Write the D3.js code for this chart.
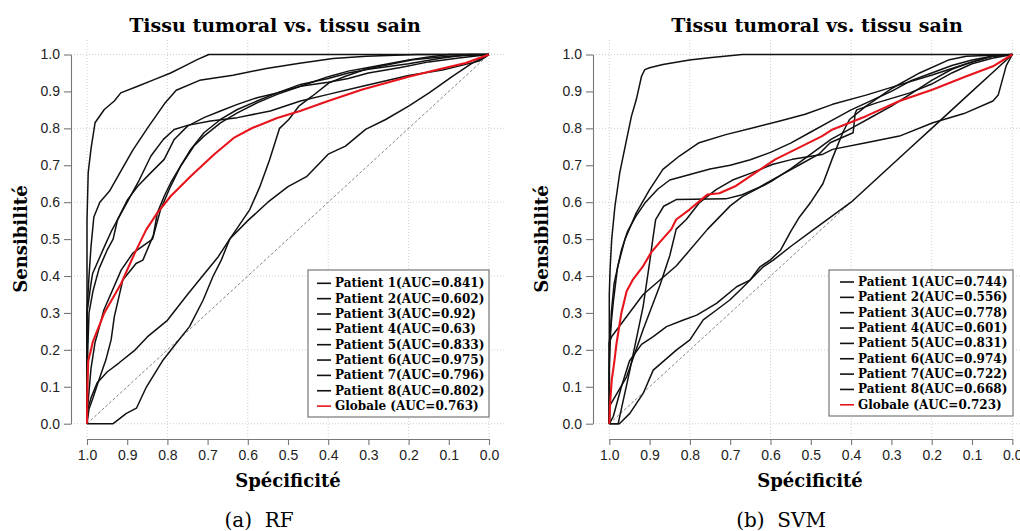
<!DOCTYPE html>
<html><head><meta charset="utf-8">
<script src="https://cdn.jsdelivr.net/npm/d3@7"></script>
<style>body{margin:0;background:#fff;overflow:hidden}</style>
</head><body><svg id="c" width="1020" height="531"></svg>
<script>
// ---------- tick labels ----------
const specTicks = [1.0,0.9,0.8,0.7,0.6,0.5,0.4,0.3,0.2,0.1,0.0];
const sensTicks = [0.0,0.1,0.2,0.3,0.4,0.5,0.6,0.7,0.8,0.9,1.0];
const gridValues = [0,0.2,0.4,0.6,0.8,1.0];
const titleText = "Tissu tumoral vs. tissu sain";
const xLabel = "Spécificité";
const yLabel = "Sensibilité";
const captions = ["(a)  RF", "(b)  SVM"];

// ---------- legend labels ----------
const rfLabels = ["Patient 1(AUC=0.841)","Patient 2(AUC=0.602)","Patient 3(AUC=0.92)","Patient 4(AUC=0.63)",
  "Patient 5(AUC=0.833)","Patient 6(AUC=0.975)","Patient 7(AUC=0.796)","Patient 8(AUC=0.802)","Globale (AUC=0.763)"];
const svmLabels = ["Patient 1(AUC=0.744)","Patient 2(AUC=0.556)","Patient 3(AUC=0.778)","Patient 4(AUC=0.601)",
  "Patient 5(AUC=0.831)","Patient 6(AUC=0.974)","Patient 7(AUC=0.722)","Patient 8(AUC=0.668)","Globale (AUC=0.723)"];

// ---------- RF curves [specificity, sensitivity] ----------
const rfP1 = [[1,0],[0.998,0.2],[0.995,0.3],[0.985,0.36],[0.97,0.42],[0.95,0.47],[0.935,0.5],[0.924,0.553],[0.899,0.607],[0.874,0.643],[0.841,0.68],[0.808,0.716],[0.783,0.77],[0.75,0.806],[0.709,0.829],[0.668,0.847],[0.626,0.865],[0.577,0.883],[0.527,0.896],[0.469,0.914],[0.44,0.925],[0.4,0.94],[0.35,0.955],[0.3,0.965],[0.25,0.975],[0.2,0.985],[0.15,0.993],[0.1,1],[0,1]];
const rfP2 = [[1,0],[0.998,0.04],[0.99,0.07],[0.975,0.11],[0.95,0.14],[0.92,0.165],[0.88,0.2],[0.85,0.235],[0.8,0.28],[0.75,0.35],[0.705,0.41],[0.675,0.45],[0.645,0.5],[0.6,0.55],[0.55,0.6],[0.5,0.642],[0.454,0.669],[0.4,0.73],[0.357,0.752],[0.307,0.797],[0.257,0.824],[0.2,0.86],[0.149,0.896],[0.091,0.941],[0.041,0.977],[0,1]];
const rfP3 = [[1,0],[1,0.3],[0.995,0.4],[0.99,0.48],[0.983,0.56],[0.968,0.6],[0.944,0.63],[0.919,0.678],[0.886,0.741],[0.85,0.8],[0.807,0.867],[0.778,0.903],[0.72,0.93],[0.637,0.944],[0.554,0.962],[0.471,0.976],[0.388,0.989],[0.305,0.995],[0.18,1],[0,1]];
const rfP4 = [[1,0],[0.935,0],[0.902,0.028],[0.877,0.042],[0.852,0.1],[0.811,0.172],[0.778,0.218],[0.745,0.263],[0.711,0.335],[0.687,0.398],[0.666,0.443],[0.645,0.5],[0.62,0.54],[0.595,0.58],[0.57,0.642],[0.546,0.714],[0.521,0.8],[0.498,0.824],[0.473,0.86],[0.44,0.887],[0.398,0.923],[0.357,0.941],[0.307,0.96],[0.19,0.986],[0.1,0.995],[0,1]];
const rfP5 = [[1,0],[1,0.3],[0.99,0.38],[0.986,0.407],[0.957,0.479],[0.94,0.52],[0.92,0.56],[0.9,0.6],[0.87,0.66],[0.841,0.725],[0.81,0.77],[0.783,0.797],[0.75,0.808],[0.693,0.82],[0.626,0.829],[0.544,0.847],[0.469,0.874],[0.4,0.892],[0.315,0.914],[0.2,0.943],[0.116,0.958],[0.025,0.982],[0,1]];
const rfP6 = [[1,0],[1,0.55],[0.997,0.68],[0.99,0.745],[0.98,0.815],[0.957,0.851],[0.932,0.874],[0.916,0.896],[0.874,0.914],[0.833,0.932],[0.792,0.95],[0.759,0.968],[0.726,0.986],[0.697,1],[0,1]];
const rfP7 = [[1,0],[0.998,0.05],[0.99,0.15],[0.98,0.22],[0.969,0.263],[0.958,0.308],[0.915,0.416],[0.886,0.462],[0.837,0.5],[0.817,0.58],[0.792,0.643],[0.767,0.698],[0.742,0.743],[0.709,0.788],[0.668,0.824],[0.626,0.851],[0.577,0.874],[0.527,0.896],[0.469,0.919],[0.4,0.935],[0.35,0.95],[0.3,0.96],[0.2,0.975],[0.12,0.99],[0.05,1],[0,1]];
const rfP8 = [[1,0],[0.995,0.04],[0.985,0.07],[0.97,0.12],[0.953,0.173],[0.94,0.227],[0.932,0.29],[0.911,0.389],[0.878,0.434],[0.861,0.443],[0.835,0.51],[0.825,0.571],[0.808,0.616],[0.792,0.652],[0.767,0.698],[0.734,0.752],[0.709,0.779],[0.668,0.815],[0.626,0.842],[0.577,0.869],[0.527,0.892],[0.469,0.914],[0.4,0.925],[0.35,0.935],[0.3,0.95],[0.22,0.965],[0.15,0.98],[0.08,0.99],[0,1]];
const rfGlobal = [[1,0],[0.999,0.1],[0.997,0.17],[0.99,0.2],[0.986,0.22],[0.957,0.3],[0.915,0.38],[0.882,0.46],[0.853,0.525],[0.825,0.571],[0.792,0.616],[0.742,0.67],[0.684,0.729],[0.635,0.774],[0.589,0.801],[0.527,0.828],[0.47,0.847],[0.4,0.874],[0.315,0.905],[0.2,0.94],[0.124,0.96],[0.058,0.977],[0,1]];

// ---------- SVM curves [specificity, sensitivity] ----------
const svmP1 = [[1,0],[0.978,0],[0.949,0.145],[0.916,0.318],[0.9,0.436],[0.892,0.5],[0.885,0.553],[0.865,0.589],[0.834,0.607],[0.711,0.609],[0.67,0.62],[0.629,0.64],[0.58,0.67],[0.53,0.7],[0.48,0.73],[0.452,0.761],[0.395,0.788],[0.39,0.84],[0.386,0.85],[0.337,0.869],[0.254,0.896],[0.2,0.92],[0.15,0.95],[0.1,0.975],[0.05,0.99],[0,1]];
const svmP2 = [[1,0],[0.975,0],[0.949,0.028],[0.916,0.082],[0.891,0.145],[0.833,0.2],[0.8,0.227],[0.767,0.281],[0.734,0.308],[0.701,0.335],[0.667,0.371],[0.618,0.425],[0.593,0.443],[0.55,0.48],[0.5,0.52],[0.45,0.56],[0.4,0.6],[0.35,0.65],[0.3,0.7],[0.25,0.75],[0.2,0.8],[0.15,0.85],[0.1,0.9],[0.05,0.95],[0,1]];
const svmP3 = [[1,0],[1,0.22],[0.99,0.33],[0.98,0.42],[0.97,0.47],[0.955,0.52],[0.935,0.56],[0.91,0.6],[0.88,0.635],[0.85,0.66],[0.8,0.675],[0.75,0.69],[0.7,0.7],[0.65,0.715],[0.6,0.735],[0.55,0.76],[0.5,0.79],[0.45,0.82],[0.4,0.85],[0.35,0.875],[0.3,0.9],[0.25,0.93],[0.2,0.95],[0.15,0.97],[0.1,0.985],[0.05,0.995],[0,1]];
const svmP4 = [[1,0],[0.99,0.02],[0.97,0.1],[0.95,0.17],[0.92,0.215],[0.891,0.236],[0.858,0.263],[0.816,0.281],[0.783,0.294],[0.734,0.326],[0.684,0.371],[0.651,0.389],[0.626,0.425],[0.601,0.443],[0.575,0.47],[0.55,0.52],[0.528,0.56],[0.5,0.6],[0.47,0.65],[0.446,0.72],[0.42,0.79],[0.404,0.824],[0.363,0.86],[0.296,0.91],[0.23,0.95],[0.156,0.986],[0.114,0.995],[0,1]];
const svmP5 = [[1,0],[1,0.15],[0.995,0.3],[0.988,0.38],[0.978,0.43],[0.961,0.5],[0.933,0.571],[0.9,0.634],[0.867,0.689],[0.826,0.725],[0.777,0.761],[0.711,0.783],[0.645,0.801],[0.579,0.819],[0.514,0.838],[0.446,0.865],[0.363,0.89],[0.288,0.915],[0.197,0.945],[0.114,0.975],[0.05,0.995],[0,1]];
const svmP6 = [[1,0],[1,0.35],[0.998,0.42],[0.994,0.5],[0.986,0.589],[0.974,0.68],[0.957,0.77],[0.945,0.833],[0.933,0.878],[0.92,0.941],[0.912,0.959],[0.9,0.964],[0.867,0.973],[0.801,0.985],[0.752,0.991],[0.67,1],[0,1]];
const svmP7 = [[1,0],[1,0.22],[0.994,0.236],[0.916,0.35],[0.834,0.427],[0.756,0.527],[0.7,0.59],[0.67,0.615],[0.6,0.655],[0.55,0.69],[0.5,0.73],[0.45,0.77],[0.4,0.8],[0.35,0.83],[0.3,0.86],[0.25,0.895],[0.2,0.93],[0.15,0.96],[0.1,0.98],[0.05,0.995],[0,1]];
const svmP8 = [[1,0],[0.998,0.05],[0.957,0.127],[0.916,0.255],[0.875,0.373],[0.85,0.455],[0.834,0.527],[0.809,0.553],[0.777,0.598],[0.735,0.634],[0.694,0.66],[0.645,0.68],[0.596,0.702],[0.546,0.716],[0.472,0.729],[0.446,0.743],[0.363,0.761],[0.28,0.779],[0.197,0.815],[0.12,0.84],[0.048,0.874],[0.035,0.89],[0.025,0.93],[0.015,0.97],[0,1]];
const svmGlobal = [[1,0],[0.998,0.055],[0.994,0.118],[0.988,0.164],[0.982,0.218],[0.97,0.3],[0.957,0.359],[0.941,0.391],[0.916,0.427],[0.896,0.464],[0.875,0.491],[0.846,0.527],[0.834,0.553],[0.801,0.58],[0.756,0.621],[0.727,0.624],[0.686,0.644],[0.637,0.68],[0.588,0.716],[0.538,0.743],[0.472,0.779],[0.446,0.797],[0.363,0.833],[0.28,0.874],[0.197,0.905],[0.114,0.941],[0.048,0.968],[0,1]];

const rfSeries = [rfP1,rfP2,rfP3,rfP4,rfP5,rfP6,rfP7,rfP8,rfGlobal];
const svmSeries = [svmP1,svmP2,svmP3,svmP4,svmP5,svmP6,svmP7,svmP8,svmGlobal];
const seriesColors = ["#111","#111","#111","#111","#111","#111","#111","#111","#e8141c"];

// ---------- layout ----------
const panels = [
  {series: rfSeries, labels: rfLabels, caption: captions[0],
   xr:[87,489], yr:[423.7,54.5], axisX:71, axisY:439, right:505, top:40, bottom:438.5,
   titleX:275, xLabelX:288, yLabelX:20, captionX:259,
   legend:{x:308,y:270,w:181,h:147,lx0:317,lx1:331,tx:335,ry:283.3}},
  {series: svmSeries, labels: svmLabels, caption: captions[1],
   xr:[609.3,1012.3], yr:[423.7,54.5], axisX:593, axisY:439, right:1028, top:40, bottom:438.5,
   titleX:817, xLabelX:810, yLabelX:541, captionX:781,
   legend:{x:829,y:270,w:184,h:146,lx0:840,lx1:854,tx:858,ry:282}}
];

const svg = d3.select("#c");
const serif = "'DejaVu Serif', serif";
const sans = "'Liberation Sans', Arial, sans-serif";

panels.forEach(p => {
  const x = d3.scaleLinear().domain([1,0]).range(p.xr);
  const y = d3.scaleLinear().domain([0,1]).range(p.yr);
  const g = svg.append("g");

  // grid
  g.selectAll(".gv").data(gridValues).join("line")
    .attr("x1", d=>x(d)).attr("x2", d=>x(d)).attr("y1", p.top).attr("y2", p.bottom)
    .attr("stroke","#cfcfcf").attr("stroke-width",1).attr("stroke-dasharray","1,2");
  g.selectAll(".gh").data(gridValues).join("line")
    .attr("y1", d=>y(d)).attr("y2", d=>y(d)).attr("x1", p.axisX).attr("x2", p.right)
    .attr("stroke","#cfcfcf").attr("stroke-width",1).attr("stroke-dasharray","1,2");

  // diagonal
  g.append("line").attr("x1",x(1)).attr("y1",y(0)).attr("x2",x(0)).attr("y2",y(1))
    .attr("stroke","#777").attr("stroke-width",0.9).attr("stroke-dasharray","3,2");

  // axes
  const ax = g.append("g").attr("transform",`translate(${p.axisX},0)`)
    .call(d3.axisLeft(y).tickValues(sensTicks).tickFormat(d3.format(".1f")).tickSize(7).tickSizeOuter(0).tickPadding(4));
  const bx = g.append("g").attr("transform",`translate(0,${p.axisY})`)
    .call(d3.axisBottom(x).tickValues(specTicks).tickFormat(d3.format(".1f")).tickSize(6).tickSizeOuter(0).tickPadding(5));
  [ax,bx].forEach(a => {
    a.select(".domain").attr("stroke","#777").attr("stroke-width",1.1);
    a.selectAll(".tick line").attr("stroke","#777").attr("stroke-width",1.1);
    a.selectAll(".tick text").attr("fill","#222").style("font-family",sans).style("font-size","14px");
  });

  // curves
  const line = d3.line().x(d=>x(d[0])).y(d=>y(d[1]));
  g.selectAll(".curve").data(p.series).join("path")
    .attr("d", line).attr("fill","none")
    .attr("stroke",(d,i)=>seriesColors[i])
    .attr("stroke-width",(d,i)=> i===8 ? 2.1 : 1.5)
    .attr("stroke-linejoin","round");

  // title & labels
  g.append("text").attr("x",p.titleX).attr("y",32).attr("text-anchor","middle")
    .style("font-family",serif).style("font-weight","bold").style("font-size","19px").text(titleText);
  g.append("text").attr("x",p.xLabelX).attr("y",486.5).attr("text-anchor","middle")
    .style("font-family",serif).style("font-weight","bold").style("font-size","18px").text(xLabel);
  g.append("text").attr("transform",`translate(${p.yLabelX},${(p.yr[0]+p.yr[1])/2}) rotate(-90)`)
    .attr("text-anchor","middle").attr("dominant-baseline","central")
    .style("font-family",serif).style("font-weight","bold").style("font-size","18px").text(yLabel);
  g.append("text").attr("x",p.captionX).attr("y",526.5).attr("text-anchor","middle")
    .style("font-family",serif).style("font-size","20px").style("white-space","pre").text(p.caption);

  // legend
  const L = p.legend;
  const lg = g.append("g");
  lg.append("rect").attr("x",L.x).attr("y",L.y).attr("width",L.w).attr("height",L.h)
    .attr("fill","#fff").attr("stroke","#777").attr("stroke-width",1.2);
  const rows = lg.selectAll(".row").data(p.labels).join("g")
    .attr("transform",(d,i)=>`translate(0,${L.ry + i*15.35})`);
  rows.append("line").attr("x1",L.lx0).attr("x2",L.lx1).attr("y1",0).attr("y2",0)
    .attr("stroke",(d,i)=>seriesColors[i]).attr("stroke-width",1.6);
  rows.append("text").attr("x",L.tx).attr("y",0).attr("dominant-baseline","central")
    .style("font-family",serif).style("font-weight","bold").style("font-size","12px").text(d=>d);
});
</script>
</body></html>
